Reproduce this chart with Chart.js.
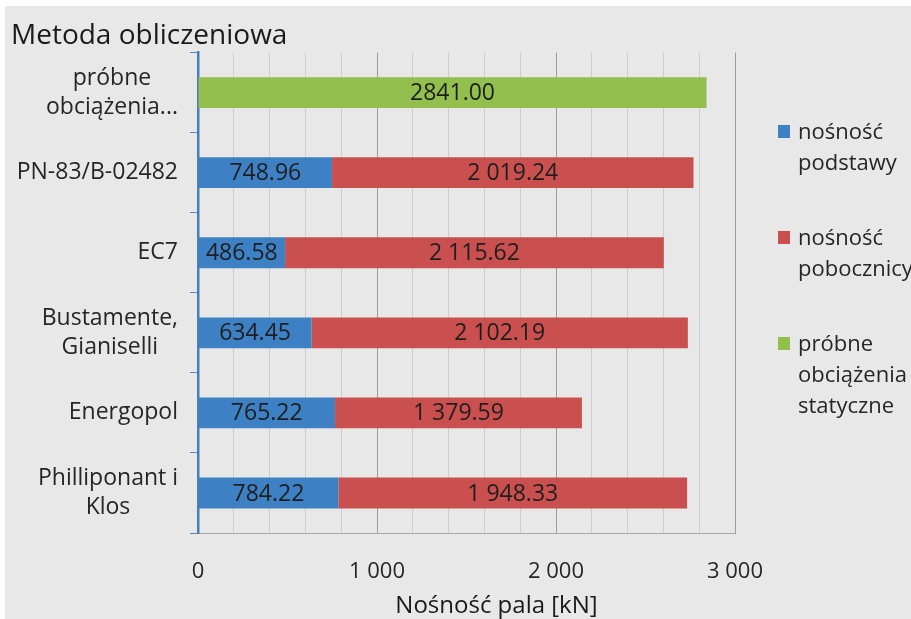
<!DOCTYPE html>
<html>
<head>
<meta charset="utf-8">
<script src="https://cdn.jsdelivr.net/npm/chart.js@4.4.1/dist/chart.umd.min.js"></script>
<style>
  body { margin: 0; background: #fff; }
  #frame {
    position: absolute; left: 5px; top: 6px; width: 906px; height: 613px;
    background: #e8e8e8; overflow: hidden;
    font-family: 'Open Sans', sans-serif; color: #262626;
  }
  #chartBox { position: absolute; left: 0; top: 0; width: 906px; height: 613px; }
  #legend { position: absolute; left: 773px; top: 109px; }
  .item { position: relative; margin-bottom: 44px; }
  .swatch { position: absolute; left: 0; top: 10px; width: 12px; height: 13px; }
  .text { margin-left: 20px; width: 108px; font-size: 22px; line-height: 31px; }
</style>
</head>
<body>
<div id="frame">
  <div id="chartBox"><canvas id="myChart"></canvas></div>
  <div id="legend"></div>
</div>
<script>
// methods (multi-line labels are arrays)
const categories = [
  ['próbne', 'obciążenia...'],
  'PN-83/B-02482',
  'EC7',
  ['Bustamente,', 'Gianiselli'],
  'Energopol',
  ['Philliponant i', 'Klos']
];

// pile capacity parts [kN]
const baseCapacity  = [null, 748.96, 486.58, 634.45, 765.22, 784.22];
const shaftCapacity = [null, 2019.24, 2115.62, 2102.19, 1379.59, 1948.33];
const loadTest      = [2841.00, null, null, null, null, null];

const seriesNames = ['nośność podstawy', 'nośność pobocznicy', 'próbne obciążenia statyczne'];
const seriesColors = ['#3d81c4', '#c9504e', '#93bf4e'];

const xMin = 0, xMax = 3000, xStep = 200, xLabelEvery = 1000;
const xTitle = 'Nośność pala [kN]';

const FONT = "'Open Sans', sans-serif";

// "2019.24" -> "2 019.24"
const spaced = (v, dec) => {
  const [i, d] = v.toFixed(dec).split('.');
  const s = i.replace(/\B(?=(\d{3})+(?!\d))/g, ' ');
  return d ? s + '.' + d : s;
};

// category names left of the axis: block right-aligned, lines centred in it,
// plus the value axis title under the tick labels
const axisText = {
  id: 'axisText',
  afterDraw(chart) {
    const x = chart.scales.x, y = chart.scales.y, ctx = chart.ctx;
    ctx.save();
    ctx.fillStyle = '#262626';
    ctx.textAlign = 'center';
    ctx.textBaseline = 'middle';
    ctx.font = '23px ' + FONT;
    const right = y.right - 20;
    chart.data.labels.forEach((lab, i) => {
      const lines = Array.isArray(lab) ? lab : [lab];
      const w = Math.max(...lines.map(l => ctx.measureText(l).width));
      const cy = y.getPixelForValue(i);
      lines.forEach((l, k) => {
        ctx.fillText(l, right - w / 2, cy + (k - (lines.length - 1) / 2) * 29);
      });
    });
    ctx.fillStyle = '#1a1a1a';
    ctx.font = '24px ' + FONT;
    ctx.fillText(xTitle, (x.left + x.right) / 2 + 30, x.bottom - 13);
    ctx.restore();
  }
};

// value in the middle of each segment
const barValues = {
  id: 'barValues',
  afterDatasetsDraw(chart) {
    const ctx = chart.ctx;
    ctx.save();
    ctx.font = '23px ' + FONT;
    ctx.fillStyle = '#1e1e1e';
    ctx.textAlign = 'center';
    ctx.textBaseline = 'middle';
    chart.data.datasets.forEach((ds, di) => {
      chart.getDatasetMeta(di).data.forEach((bar, i) => {
        const v = ds.data[i];
        if (v == null) return;
        const txt = ds.grouped ? spaced(v, 2) : v.toFixed(2);
        ctx.fillText(txt, (bar.x + bar.base) / 2, bar.y + 1);
      });
    });
    ctx.restore();
  }
};

const ctx = document.getElementById('myChart').getContext('2d');
const chart = new Chart(ctx, {
  type: 'bar',
  data: {
    labels: categories,
    datasets: [
      { label: seriesNames[0], data: baseCapacity, backgroundColor: seriesColors[0], grouped: true },
      { label: seriesNames[1], data: shaftCapacity, backgroundColor: seriesColors[1], grouped: true },
      { label: seriesNames[2], data: loadTest, backgroundColor: seriesColors[2], grouped: false }
    ]
  },
  options: {
    indexAxis: 'y',
    responsive: true,
    maintainAspectRatio: false,
    animation: false,
    categoryPercentage: 1,
    barPercentage: 0.385,
    layout: { padding: { left: 6, right: 176, top: 0, bottom: 0 } },
    plugins: {
      legend: { display: false },
      tooltip: { enabled: false },
      title: {
        display: true,
        text: 'Metoda obliczeniowa',
        align: 'start',
        color: '#1a1a1a',
        font: { family: FONT, size: 28, weight: 'normal' },
        padding: { top: 13, bottom: 0 }
      }
    },
    scales: {
      x: {
        stacked: true,
        min: xMin,
        max: xMax,
        ticks: {
          stepSize: xStep,
          autoSkip: false,
          maxRotation: 0,
          padding: 26,
          color: '#262626',
          font: { family: FONT, size: 22 },
          callback: v => (v % xLabelEvery === 0 ? spaced(v, 0) : '')
        },
        grid: {
          drawTicks: false,
          color: c => (c.tick && c.tick.value % xLabelEvery === 0 ? '#9c9c9c' : '#cdcdcd')
        },
        border: { display: true, color: '#a6a6a6', width: 1 },
        afterFit: scale => { scale.height = 86; }
      },
      y: {
        stacked: true,
        ticks: { display: false },
        grid: {
          drawOnChartArea: false,
          drawTicks: true,
          tickLength: 8,
          offset: true,
          color: '#5b86bd'
        },
        border: { display: true, color: '#4a7ebb', width: 2.5 },
        afterFit: scale => { scale.width = 187; }
      }
    }
  },
  plugins: [axisText, barValues]
});

// legend on the right, built from the datasets
const legend = document.getElementById('legend');
chart.data.datasets.forEach(ds => {
  const item = document.createElement('div');
  item.className = 'item';
  const sw = document.createElement('div');
  sw.className = 'swatch';
  sw.style.background = ds.backgroundColor;
  const tx = document.createElement('div');
  tx.className = 'text';
  tx.textContent = ds.label;
  item.appendChild(sw);
  item.appendChild(tx);
  legend.appendChild(item);
});
</script>
</body>
</html>
